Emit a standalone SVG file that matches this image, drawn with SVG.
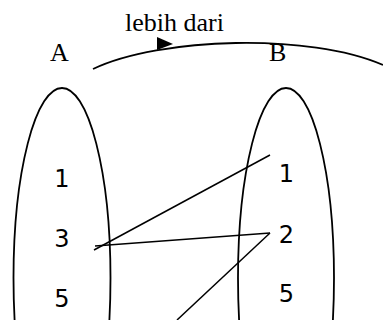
<svg xmlns="http://www.w3.org/2000/svg" width="383" height="320" viewBox="0 0 383 320">
<style>
.ov{fill:none;stroke:#000;stroke-width:1.8}
.ln{fill:none;stroke:#000;stroke-width:1.5}
.arc{fill:none;stroke:#000;stroke-width:1.8}
.serif{font-family:"Liberation Serif","Times New Roman",serif;font-size:26px;fill:#000}
.num{font-family:"DejaVu Sans",sans-serif;font-size:24px;fill:#000;text-anchor:middle}
</style>
<rect width="383" height="320" fill="#fff"/>
<g id="setA">
<ellipse class="ov" cx="62" cy="278" rx="48.5" ry="190"/>
<text class="serif" x="50" y="61">A</text>
<text class="num" x="62" y="187">1</text>
<text class="num" x="62" y="247">3</text>
<text class="num" x="62" y="307">5</text>
</g>
<g id="setB">
<ellipse class="ov" cx="286" cy="278" rx="48" ry="190"/>
<text class="serif" x="269" y="61">B</text>
<text class="num" x="286.5" y="182">1</text>
<text class="num" x="286.5" y="243">2</text>
<text class="num" x="286.5" y="302">5</text>
</g>
<g id="connectors">
<path class="arc" d="M93,69 C160,37 310,33 383,65"/>
<polygon points="157,37 157,50 173,44" fill="#000"/>
<text class="serif" x="125" y="30.5">lebih dari</text>
<line class="ln" x1="94" y1="250" x2="270" y2="155"/>
<line class="ln" x1="95" y1="246" x2="270" y2="233"/>
<line class="ln" x1="270" y1="233" x2="177" y2="320"/>
</g>
</svg>
